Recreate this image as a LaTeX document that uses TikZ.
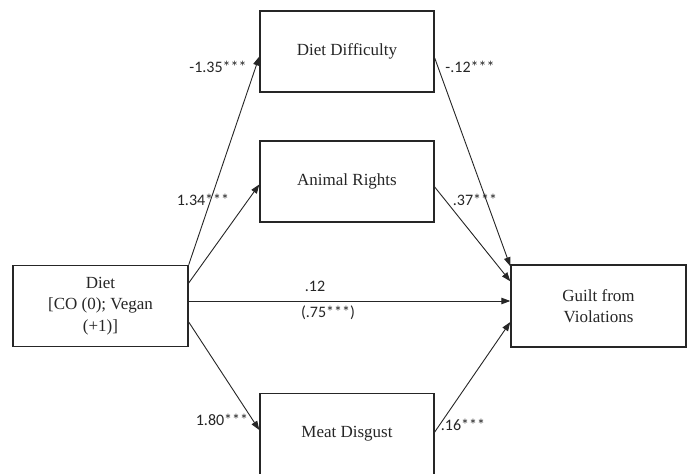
\documentclass[tikz,border=0pt]{standalone}
\usepackage{fontspec}
\setmainfont{Liberation Serif}
\newfontfamily\lblfont{Carlito}
\usetikzlibrary{arrows.meta}
\tikzset{
  box/.style={draw=black!85, line width=1.4pt, fill=white, minimum width=174pt, minimum height=81pt, inner sep=0pt, align=center, font=\fontsize{17}{21.5}\selectfont, text=black!85},
  arr/.style={draw=black!85, line width=0.9pt, -{Triangle[length=9pt,width=6.5pt]}},
  lbl/.style={font=\lblfont\fontsize{16}{19}\selectfont, text=black!85, inner sep=0pt}
}
\begin{document}
\begin{tikzpicture}[x=1pt,y=-1pt]
\useasboundingbox[fill=white] (0,0) rectangle (692,473);
\node[box, minimum width=175pt] (diet) at (100.5,306) {Diet\\{}[CO (0); Vegan\\(+1)]};
\node[box] (dd) at (347,51.5) {Diet Difficulty};
\node[box] (ar) at (347,181.5) {Animal Rights};
\node[box] (md) at (347,434) {Meat Disgust};
\node[box, minimum width=175pt, minimum height=82pt] (gv) at (598.5,306) {Guilt from\\Violations};
\draw[arr] (diet.north east) -- ([yshift=-5pt]dd.west);
\draw[arr] ([yshift=23pt]diet.east) -- ([yshift=-3pt]ar.west);
\draw[arr] ([yshift=5pt]diet.east) -- ([yshift=5pt]diet.east -| gv.west);
\draw[arr] ([yshift=-16pt]diet.east) -- ([yshift=4pt]md.west);
\draw[arr] ([yshift=-6.5pt]dd.east) -- ([yshift=-2pt]gv.north west);
\draw[arr] ([yshift=-5.5pt]ar.east) -- ([yshift=-17pt]gv.north west);
\draw[arr] ([yshift=2pt]md.east) -- ([yshift=-16pt]gv.west);
\node[lbl] (l1) at (218,67) {-1.35***};
\node[lbl] (l2) at (470,67) {-.12***};
\node[lbl] (l3) at (203,200) {1.34***};
\node[lbl] (l4) at (475,200) {.37***};
\node[lbl] (l5) at (315,286) {.12};
\node[lbl] (l6) at (328,313) {(.75***)};
\node[lbl] (l7) at (222,420) {1.80***};
\node[lbl] (l8) at (463,425) {.16***};
\end{tikzpicture}
\end{document}
